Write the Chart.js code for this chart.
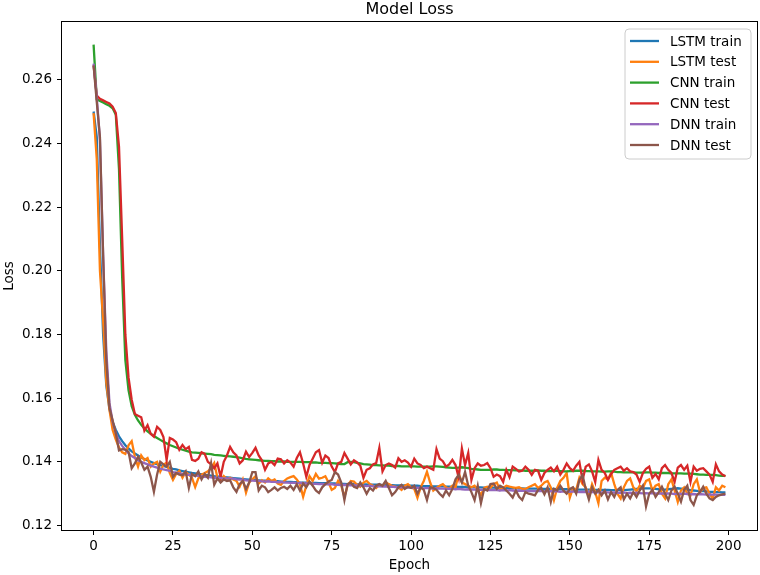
<!DOCTYPE html>
<html>
<head>
<meta charset="utf-8">
<script src="https://cdn.jsdelivr.net/npm/chart.js@4/dist/chart.umd.min.js"></script>
<style>
  html, body { margin: 0; padding: 0; background: #fff; }
  #graph { display: block; }
</style>
</head>
<body>
<canvas id="graph" width="760" height="575"></canvas>
<script>
// epochs 0..199
var epochs = Array.from({length: 200}, function (_, i) { return i; });

var xTicks = [0, 25, 50, 75, 100, 125, 150, 175, 200];
var yTicks = [0.12, 0.14, 0.16, 0.18, 0.20, 0.22, 0.24, 0.26];

var seriesNames = ['LSTM train', 'LSTM test', 'CNN train', 'CNN test', 'DNN train', 'DNN test'];
var seriesColors = ['#1f77b4', '#ff7f0e', '#2ca02c', '#d62728', '#9467bd', '#8c564b'];

var lstmTrain = [
  0.2500, 0.2420, 0.2080, 0.1800, 0.1640, 0.1565, 0.1525, 0.1500, 0.1480, 0.1465,
  0.1452, 0.1442, 0.1433, 0.1426, 0.1420, 0.1414, 0.1409, 0.1404, 0.1400, 0.1396,
  0.1393, 0.1390, 0.1387, 0.1384, 0.1381, 0.1378, 0.1376, 0.1373, 0.1371, 0.1369,
  0.1367, 0.1365, 0.1364, 0.1362, 0.1361, 0.1359, 0.1358, 0.1357, 0.1355, 0.1354,
  0.1353, 0.1352, 0.1351, 0.1350, 0.1349, 0.1348, 0.1347, 0.1346, 0.1345, 0.1344,
  0.1344, 0.1343, 0.1342, 0.1341, 0.1341, 0.1340, 0.1340, 0.1339, 0.1339, 0.1338,
  0.1338, 0.1337, 0.1337, 0.1336, 0.1336, 0.1335, 0.1335, 0.1335, 0.1334, 0.1334,
  0.1334, 0.1333, 0.1333, 0.1333, 0.1332, 0.1332, 0.1332, 0.1331, 0.1331, 0.1331,
  0.1330, 0.1330, 0.1330, 0.1329, 0.1329, 0.1329, 0.1329, 0.1328, 0.1328, 0.1328,
  0.1328, 0.1327, 0.1327, 0.1327, 0.1327, 0.1326, 0.1326, 0.1326, 0.1326, 0.1325,
  0.1325, 0.1325, 0.1325, 0.1324, 0.1324, 0.1324, 0.1324, 0.1323, 0.1323, 0.1323,
  0.1323, 0.1322, 0.1322, 0.1322, 0.1322, 0.1321, 0.1321, 0.1321, 0.1321, 0.1320,
  0.1320, 0.1320, 0.1320, 0.1319, 0.1319, 0.1319, 0.1319, 0.1318, 0.1318, 0.1318,
  0.1318, 0.1318, 0.1317, 0.1317, 0.1317, 0.1317, 0.1316, 0.1316, 0.1316, 0.1316,
  0.1316, 0.1315, 0.1315, 0.1315, 0.1315, 0.1315, 0.1314, 0.1314, 0.1314, 0.1314,
  0.1314, 0.1313, 0.1313, 0.1313, 0.1313, 0.1313, 0.1313, 0.1312, 0.1312, 0.1312,
  0.1312, 0.1312, 0.1312, 0.1311, 0.1311, 0.1311, 0.1311, 0.1311, 0.1312, 0.1313,
  0.1314, 0.1315, 0.1316, 0.1317, 0.1317, 0.1317, 0.1316, 0.1315, 0.1314, 0.1313,
  0.1313, 0.1314, 0.1315, 0.1316, 0.1317, 0.1316, 0.1315, 0.1313, 0.1311, 0.1310,
  0.1309, 0.1308, 0.1308, 0.1307, 0.1306, 0.1306, 0.1305, 0.1305, 0.1304, 0.1304
];

var lstmTest = [
  0.2495, 0.2350, 0.2000, 0.1845, 0.1650, 0.1563, 0.1500, 0.1470, 0.1445, 0.1430,
  0.1425, 0.1452, 0.1465, 0.1416, 0.1385, 0.1420, 0.1405, 0.1412, 0.1385, 0.1395,
  0.1400, 0.1369, 0.1390, 0.1398, 0.1365, 0.1343, 0.1362, 0.1372, 0.1350, 0.1368,
  0.1360, 0.1350, 0.1321, 0.1348, 0.1360, 0.1365, 0.1370, 0.1380, 0.1396, 0.1350,
  0.1340, 0.1355, 0.1345, 0.1350, 0.1345, 0.1340, 0.1322, 0.1345, 0.1303, 0.1335,
  0.1345, 0.1355, 0.1332, 0.1342, 0.1335, 0.1348, 0.1340, 0.1345, 0.1332, 0.1328,
  0.1340, 0.1348, 0.1352, 0.1355, 0.1345, 0.1330, 0.1290, 0.1325, 0.1355, 0.1340,
  0.1362, 0.1347, 0.1350, 0.1355, 0.1335, 0.1312, 0.1318, 0.1340, 0.1325, 0.1290,
  0.1325, 0.1340, 0.1338, 0.1328, 0.1322, 0.1335, 0.1340, 0.1330, 0.1325, 0.1318,
  0.1328, 0.1325, 0.1336, 0.1330, 0.1325, 0.1322, 0.1320, 0.1312, 0.1325, 0.1330,
  0.1320, 0.1315, 0.1287, 0.1320, 0.1340, 0.1369, 0.1335, 0.1310, 0.1318, 0.1325,
  0.1330, 0.1320, 0.1315, 0.1325, 0.1320, 0.1365, 0.1335, 0.1330, 0.1325, 0.1320,
  0.1325, 0.1312, 0.1296, 0.1318, 0.1322, 0.1318, 0.1330, 0.1335, 0.1312, 0.1318,
  0.1325, 0.1322, 0.1320, 0.1318, 0.1320, 0.1315, 0.1315, 0.1320, 0.1325, 0.1330,
  0.1318, 0.1325, 0.1335, 0.1340, 0.1320, 0.1280, 0.1318, 0.1340, 0.1350, 0.1365,
  0.1288, 0.1318, 0.1312, 0.1350, 0.1330, 0.1320, 0.1290, 0.1330, 0.1305, 0.1270,
  0.1340, 0.1350, 0.1345, 0.1365, 0.1330, 0.1300, 0.1285, 0.1320, 0.1340, 0.1348,
  0.1320, 0.1308, 0.1325, 0.1318, 0.1340, 0.1345, 0.1310, 0.1325, 0.1330, 0.1300,
  0.1285, 0.1330, 0.1345, 0.1310, 0.1274, 0.1310, 0.1320, 0.1300, 0.1295, 0.1330,
  0.1345, 0.1305, 0.1318, 0.1320, 0.1300, 0.1285, 0.1320, 0.1310, 0.1325, 0.1320
];

var cnnTrain = [
  0.2710, 0.2538, 0.2533, 0.2528, 0.2523, 0.2518, 0.2510, 0.2490, 0.2320, 0.1980,
  0.1720, 0.1625, 0.1575, 0.1548, 0.1530, 0.1516, 0.1505, 0.1496, 0.1488, 0.1481,
  0.1475, 0.1469, 0.1463, 0.1458, 0.1453, 0.1449, 0.1445, 0.1441, 0.1438, 0.1435,
  0.1432, 0.1430, 0.1429, 0.1428, 0.1427, 0.1426, 0.1425, 0.1424, 0.1422, 0.1421,
  0.1420, 0.1419, 0.1418, 0.1417, 0.1416, 0.1415, 0.1413, 0.1411, 0.1409, 0.1408,
  0.1407, 0.1406, 0.1405, 0.1404, 0.1403, 0.1403, 0.1402, 0.1402, 0.1401, 0.1401,
  0.1401, 0.1400, 0.1400, 0.1400, 0.1400, 0.1400, 0.1399, 0.1399, 0.1399, 0.1398,
  0.1398, 0.1397, 0.1397, 0.1397, 0.1396, 0.1396, 0.1395, 0.1394, 0.1393, 0.1393,
  0.1399, 0.1400, 0.1399, 0.1397, 0.1395, 0.1393, 0.1392, 0.1391, 0.1390, 0.1390,
  0.1389, 0.1389, 0.1388, 0.1388, 0.1387, 0.1387, 0.1387, 0.1386, 0.1386, 0.1386,
  0.1386, 0.1386, 0.1385, 0.1385, 0.1385, 0.1385, 0.1385, 0.1386, 0.1386, 0.1385,
  0.1384, 0.1383, 0.1382, 0.1381, 0.1381, 0.1382, 0.1383, 0.1382, 0.1380, 0.1378,
  0.1377, 0.1376, 0.1375, 0.1375, 0.1375, 0.1375, 0.1376, 0.1376, 0.1375, 0.1375,
  0.1374, 0.1374, 0.1374, 0.1373, 0.1373, 0.1373, 0.1372, 0.1372, 0.1372, 0.1372,
  0.1373, 0.1372, 0.1372, 0.1371, 0.1371, 0.1372, 0.1372, 0.1371, 0.1370, 0.1370,
  0.1371, 0.1371, 0.1372, 0.1372, 0.1372, 0.1371, 0.1371, 0.1370, 0.1370, 0.1370,
  0.1369, 0.1369, 0.1370, 0.1370, 0.1369, 0.1368, 0.1368, 0.1367, 0.1367, 0.1367,
  0.1367, 0.1366, 0.1366, 0.1366, 0.1367, 0.1367, 0.1366, 0.1366, 0.1365, 0.1365,
  0.1365, 0.1365, 0.1364, 0.1364, 0.1364, 0.1364, 0.1363, 0.1363, 0.1363, 0.1362,
  0.1361, 0.1360, 0.1360, 0.1359, 0.1359, 0.1359, 0.1358, 0.1357, 0.1356, 0.1356
];

var cnnTest = [
  0.2645, 0.2550, 0.2540, 0.2535, 0.2530, 0.2525, 0.2515, 0.2495, 0.2390, 0.2100,
  0.1800, 0.1665, 0.1595, 0.1550, 0.1545, 0.1540, 0.1498, 0.1515, 0.1488, 0.1479,
  0.1510, 0.1500, 0.1478, 0.1406, 0.1475, 0.1470, 0.1462, 0.1438, 0.1453, 0.1440,
  0.1447, 0.1406, 0.1403, 0.1410, 0.1430, 0.1425, 0.1400, 0.1392, 0.1380, 0.1395,
  0.1353, 0.1400, 0.1420, 0.1447, 0.1430, 0.1420, 0.1395, 0.1405, 0.1432, 0.1415,
  0.1428, 0.1444, 0.1420, 0.1405, 0.1375, 0.1395, 0.1400, 0.1390, 0.1410, 0.1408,
  0.1395, 0.1405, 0.1398, 0.1385, 0.1412, 0.1430, 0.1395, 0.1353, 0.1390, 0.1410,
  0.1430, 0.1437, 0.1397, 0.1420, 0.1412, 0.1385, 0.1368, 0.1395, 0.1400, 0.1428,
  0.1410, 0.1392, 0.1405, 0.1398, 0.1388, 0.1350, 0.1375, 0.1380, 0.1392, 0.1396,
  0.1444, 0.1370, 0.1390, 0.1395, 0.1390, 0.1382, 0.1411, 0.1400, 0.1405, 0.1398,
  0.1385, 0.1410, 0.1395, 0.1390, 0.1380, 0.1385, 0.1380, 0.1375, 0.1440, 0.1410,
  0.1402, 0.1385, 0.1392, 0.1406, 0.1390, 0.1350, 0.1442, 0.1390, 0.1428, 0.1343,
  0.1380, 0.1395, 0.1388, 0.1390, 0.1396, 0.1380, 0.1353, 0.1360, 0.1355, 0.1337,
  0.1375, 0.1352, 0.1385, 0.1378, 0.1370, 0.1372, 0.1385, 0.1375, 0.1359, 0.1375,
  0.1372, 0.1343, 0.1365, 0.1375, 0.1382, 0.1370, 0.1385, 0.1360, 0.1375, 0.1395,
  0.1380, 0.1372, 0.1388, 0.1400, 0.1343, 0.1385, 0.1392, 0.1370, 0.1337, 0.1406,
  0.1375, 0.1365, 0.1343, 0.1362, 0.1375, 0.1380, 0.1385, 0.1372, 0.1380, 0.1370,
  0.1368, 0.1360, 0.1337, 0.1365, 0.1378, 0.1385, 0.1350, 0.1362, 0.1345, 0.1380,
  0.1390, 0.1375, 0.1365, 0.1337, 0.1382, 0.1390, 0.1375, 0.1388, 0.1337, 0.1385,
  0.1372, 0.1378, 0.1380, 0.1370, 0.1360, 0.1337, 0.1392, 0.1370, 0.1360, 0.1355
];

var dnnTrain = [
  0.2650, 0.2545, 0.2410, 0.2050, 0.1750, 0.1585, 0.1525, 0.1490, 0.1465, 0.1450,
  0.1438, 0.1427, 0.1418, 0.1412, 0.1405, 0.1400, 0.1396, 0.1392, 0.1388, 0.1385,
  0.1382, 0.1379, 0.1376, 0.1374, 0.1372, 0.1368, 0.1366, 0.1364, 0.1362, 0.1360,
  0.1359, 0.1358, 0.1357, 0.1356, 0.1355, 0.1353, 0.1352, 0.1351, 0.1350, 0.1350,
  0.1349, 0.1348, 0.1348, 0.1347, 0.1347, 0.1345, 0.1344, 0.1344, 0.1342, 0.1341,
  0.1341, 0.1340, 0.1340, 0.1339, 0.1338, 0.1339, 0.1337, 0.1337, 0.1336, 0.1337,
  0.1335, 0.1335, 0.1334, 0.1335, 0.1333, 0.1334, 0.1333, 0.1332, 0.1333, 0.1331,
  0.1331, 0.1330, 0.1331, 0.1329, 0.1329, 0.1330, 0.1328, 0.1328, 0.1327, 0.1328,
  0.1327, 0.1326, 0.1327, 0.1325, 0.1326, 0.1325, 0.1324, 0.1325, 0.1323, 0.1324,
  0.1323, 0.1322, 0.1323, 0.1321, 0.1322, 0.1321, 0.1320, 0.1321, 0.1319, 0.1320,
  0.1319, 0.1318, 0.1319, 0.1318, 0.1317, 0.1318, 0.1317, 0.1316, 0.1317, 0.1316,
  0.1316, 0.1315, 0.1316, 0.1315, 0.1314, 0.1315, 0.1314, 0.1313, 0.1314, 0.1313,
  0.1313, 0.1312, 0.1313, 0.1312, 0.1311, 0.1312, 0.1311, 0.1311, 0.1310, 0.1311,
  0.1310, 0.1311, 0.1310, 0.1309, 0.1310, 0.1309, 0.1309, 0.1308, 0.1309, 0.1308,
  0.1309, 0.1308, 0.1308, 0.1307, 0.1308, 0.1307, 0.1307, 0.1306, 0.1307, 0.1306,
  0.1306, 0.1307, 0.1306, 0.1305, 0.1306, 0.1305, 0.1306, 0.1305, 0.1304, 0.1305,
  0.1304, 0.1305, 0.1304, 0.1303, 0.1304, 0.1303, 0.1303, 0.1304, 0.1302, 0.1303,
  0.1302, 0.1303, 0.1302, 0.1301, 0.1302, 0.1301, 0.1302, 0.1301, 0.1300, 0.1301,
  0.1300, 0.1301, 0.1300, 0.1299, 0.1300, 0.1299, 0.1300, 0.1299, 0.1298, 0.1299,
  0.1298, 0.1299, 0.1298, 0.1297, 0.1298, 0.1297, 0.1297, 0.1296, 0.1297, 0.1296
];

var dnnTest = [
  0.2645, 0.2530, 0.2420, 0.2050, 0.1720, 0.1570, 0.1530, 0.1490, 0.1436, 0.1440,
  0.1438, 0.1432, 0.1380, 0.1395, 0.1416, 0.1398, 0.1375, 0.1385, 0.1353, 0.1306,
  0.1360, 0.1400, 0.1392, 0.1385, 0.1400, 0.1353, 0.1365, 0.1360, 0.1358, 0.1370,
  0.1318, 0.1362, 0.1355, 0.1370, 0.1345, 0.1362, 0.1350, 0.1396, 0.1328, 0.1348,
  0.1335, 0.1345, 0.1340, 0.1342, 0.1320, 0.1306, 0.1330, 0.1340, 0.1315, 0.1335,
  0.1368, 0.1368, 0.1310, 0.1325, 0.1320, 0.1305, 0.1312, 0.1320, 0.1310, 0.1318,
  0.1322, 0.1315, 0.1325, 0.1312, 0.1330, 0.1310, 0.1332, 0.1320, 0.1338, 0.1325,
  0.1310, 0.1302, 0.1320, 0.1330, 0.1338, 0.1343, 0.1368, 0.1360, 0.1335, 0.1280,
  0.1330, 0.1335, 0.1322, 0.1318, 0.1335, 0.1320, 0.1300, 0.1318, 0.1310, 0.1325,
  0.1330, 0.1325, 0.1340, 0.1318, 0.1295, 0.1305, 0.1320, 0.1328, 0.1315, 0.1322,
  0.1318, 0.1325, 0.1300, 0.1320, 0.1312, 0.1280, 0.1320, 0.1318, 0.1312, 0.1300,
  0.1290, 0.1310, 0.1295, 0.1315, 0.1345, 0.1359, 0.1335, 0.1368, 0.1325, 0.1305,
  0.1280, 0.1325, 0.1270, 0.1315, 0.1310, 0.1330, 0.1332, 0.1315, 0.1325, 0.1320,
  0.1310, 0.1300, 0.1288, 0.1310, 0.1290, 0.1280, 0.1305, 0.1300, 0.1298, 0.1295,
  0.1312, 0.1318, 0.1298, 0.1320, 0.1274, 0.1315, 0.1310, 0.1325, 0.1310, 0.1300,
  0.1315, 0.1320, 0.1300, 0.1343, 0.1359, 0.1315, 0.1282, 0.1320, 0.1300, 0.1312,
  0.1295, 0.1310, 0.1282, 0.1305, 0.1290, 0.1312, 0.1320, 0.1282, 0.1300, 0.1285,
  0.1305, 0.1290, 0.1310, 0.1325, 0.1260, 0.1300, 0.1312, 0.1290, 0.1305, 0.1322,
  0.1300, 0.1280, 0.1310, 0.1322, 0.1300, 0.1275, 0.1312, 0.1325, 0.1280, 0.1265,
  0.1295, 0.1305, 0.1322, 0.1300, 0.1285, 0.1280, 0.1290, 0.1295, 0.1298, 0.1300
];

var allSeries = [lstmTrain, lstmTest, cnnTrain, cnnTest, dnnTrain, dnnTest];

var FONT = 'DejaVu Sans';

// matplotlib-like frame, title, axis labels and legend box
var decorations = {
    id: 'decorations',
    afterDatasetsDraw: function (chart) {
        var ctx = chart.ctx;
        var a = chart.chartArea;
        ctx.save();
        ctx.strokeStyle = '#000';
        ctx.lineWidth = 1;
        ctx.strokeRect(a.left - 0.5, a.top - 0.5, a.right - a.left + 1, a.bottom - a.top + 1);
        ctx.restore();
    },
    afterDraw: function (chart) {
        var ctx = chart.ctx;
        var a = chart.chartArea;
        ctx.save();
        ctx.fillStyle = '#000';
        ctx.textAlign = 'center';
        ctx.textBaseline = 'middle';

        ctx.font = '16px "' + FONT + '"';
        ctx.fillText('Model Loss', (a.left + a.right) / 2, 10);

        ctx.font = '13.5px "' + FONT + '"';
        ctx.fillText('Epoch', (a.left + a.right) / 2, 565);

        ctx.translate(9, (a.top + a.bottom) / 2);
        ctx.rotate(-Math.PI / 2);
        ctx.fillText('Loss', 0, 0);
        ctx.restore();

        // legend
        ctx.save();
        var bx = 625, by = 29, bw = 126, bh = 130, r = 4;
        ctx.beginPath();
        ctx.moveTo(bx + r, by);
        ctx.arcTo(bx + bw, by, bx + bw, by + bh, r);
        ctx.arcTo(bx + bw, by + bh, bx, by + bh, r);
        ctx.arcTo(bx, by + bh, bx, by, r);
        ctx.arcTo(bx, by, bx + bw, by, r);
        ctx.closePath();
        ctx.fillStyle = 'rgba(255,255,255,0.8)';
        ctx.fill();
        ctx.strokeStyle = '#cccccc';
        ctx.lineWidth = 1;
        ctx.stroke();

        ctx.font = '13.5px "' + FONT + '"';
        ctx.textAlign = 'left';
        ctx.textBaseline = 'middle';
        for (var i = 0; i < seriesNames.length; i++) {
            var y = 41 + i * 20.8;
            ctx.strokeStyle = seriesColors[i];
            ctx.lineWidth = 2.3;
            ctx.beginPath();
            ctx.moveTo(630, y);
            ctx.lineTo(659, y);
            ctx.stroke();
            ctx.fillStyle = '#000';
            ctx.fillText(seriesNames[i], 670, y + 1);
        }
        ctx.restore();
    }
};

var datasets = [];
for (var s = 0; s < allSeries.length; s++) {
    var pts = [];
    for (var i = 0; i < epochs.length; i++) {
        pts.push({x: epochs[i], y: allSeries[s][i]});
    }
    datasets.push({
        label: seriesNames[s],
        data: pts,
        borderColor: seriesColors[s],
        backgroundColor: seriesColors[s],
        borderWidth: 2.3,
        pointRadius: 0,
        tension: 0,
        fill: false,
        order: allSeries.length - s // later series drawn on top, like matplotlib
    });
}

var ctx = document.getElementById('graph').getContext('2d');
var chart = new Chart(ctx, {
    type: 'line',
    data: { datasets: datasets },
    options: {
        responsive: false,
        animation: false,
        devicePixelRatio: 1,
        layout: { padding: { top: 22, right: 3, left: 0, bottom: 0 } },
        plugins: {
            legend: { display: false },
            title: { display: false },
            tooltip: { enabled: false }
        },
        scales: {
            x: {
                type: 'linear',
                min: -9.95,
                max: 208.95,
                border: { display: false },
                grid: { display: true, drawOnChartArea: false, drawTicks: true, tickLength: 5, color: '#000' },
                ticks: {
                    color: '#000',
                    font: { family: FONT, size: 13.5 },
                    padding: 3,
                    maxRotation: 0,
                    callback: function (v) { return String(v); }
                },
                afterBuildTicks: function (scale) {
                    scale.ticks = xTicks.map(function (v) { return {value: v}; });
                },
                afterFit: function (scale) { scale.height = 45; }
            },
            y: {
                type: 'linear',
                min: 0.1186,
                max: 0.2781,
                border: { display: false },
                grid: { display: true, drawOnChartArea: false, drawTicks: true, tickLength: 5, color: '#000' },
                ticks: {
                    color: '#000',
                    font: { family: FONT, size: 13.5 },
                    padding: 5,
                    callback: function (v) { return v.toFixed(2); }
                },
                afterBuildTicks: function (scale) {
                    scale.ticks = yTicks.map(function (v) { return {value: v}; });
                },
                afterFit: function (scale) { scale.width = 62; }
            }
        }
    },
    plugins: [decorations]
});
</script>
</body>
</html>
